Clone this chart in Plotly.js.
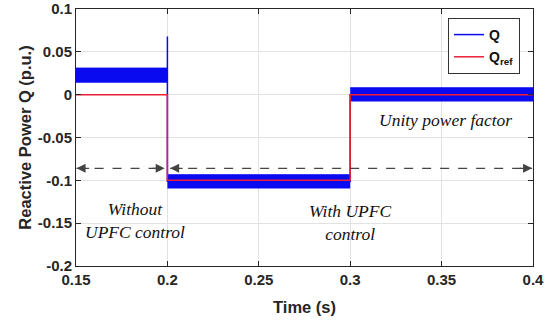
<!DOCTYPE html>
<html>
<head>
<meta charset="utf-8">
<script src="https://cdn.plot.ly/plotly-3.0.1.min.js"></script>
<style>html,body{margin:0;padding:0;background:#fff;}#chart{width:553px;height:321px;}</style>
</head>
<body>
<div id="chart"></div>
<script>
// Q: measured reactive power, envelope of the fast oscillation per interval
var bandStart = [0.15, 0.2, 0.3];
var bandEnd   = [0.2, 0.3, 0.4];
var bandHigh  = [0.031, -0.0935, 0.008];
var bandLow   = [0.014, -0.1095, -0.008];
// Q centre trace (incl. the transient spike at t = 0.2 s)
var qTime  = [0.15, 0.2, 0.2, 0.2, 0.3, 0.3, 0.4];
var qValue = [0.0225, 0.0225, 0.068, -0.101, -0.101, 0.0, 0.0];
// Q reference
var refTime  = [0.15, 0.2, 0.2, 0.3, 0.3, 0.4];
var refValue = [0, 0, -0.1, -0.1, 0, 0];
// axis ticks
var xTicks = [0.15, 0.2, 0.25, 0.3, 0.35, 0.4];
var xTickText = ["0.15", "0.2", "0.25", "0.3", "0.35", "0.4"];
var yTicks = [0.1, 0.05, 0, -0.05, -0.1, -0.15, -0.2];
var yTickText = ["0.1", "0.05", "0", "-0.05", "-0.1", "-0.15", "-0.2"];
// interval arrows
var arrowY = -0.086;
var arrowSpans = [[0.1503, 0.1985], [0.2015, 0.3995]];

var BLUE = '#0a0af0', RED = '#ee1c36', AX = '#262626';
var traces = [];
for (var i = 0; i < bandStart.length; i++) {
  traces.push({x: [bandStart[i], bandEnd[i]], y: [bandLow[i], bandLow[i]], mode: 'lines',
    line: {width: 0, color: BLUE}, showlegend: false, hoverinfo: 'skip', legendgroup: 'band'});
  traces.push({x: [bandStart[i], bandEnd[i]], y: [bandHigh[i], bandHigh[i]], mode: 'lines',
    line: {width: 1, color: BLUE}, fill: 'tonexty', fillcolor: BLUE, showlegend: false, hoverinfo: 'skip', legendgroup: 'band'});
}
traces.push({x: qTime, y: qValue, mode: 'lines', name: '<b>Q</b>', legendgroup: 'q', line: {color: BLUE, width: 1.5}});
traces.push({x: refTime, y: refValue, mode: 'lines', name: '<b>Q<sub>ref</sub></b>', legendgroup: 'r', line: {color: RED, width: 1.5}});

var shapes = [], annotations = [];
arrowSpans.forEach(function (s) {
  shapes.push({type: 'line', xref: 'x', yref: 'y', x0: s[0], x1: s[1], y0: arrowY, y1: arrowY,
    line: {color: '#444', width: 1.2, dash: 'dash'}});
  annotations.push({x: s[0], y: arrowY, xref: 'x', yref: 'y', text: '', showarrow: true,
    ax: 14, ay: 0, arrowhead: 2, arrowsize: 1.5, arrowwidth: 1.2, arrowcolor: '#444', standoff: 0});
  annotations.push({x: s[1], y: arrowY, xref: 'x', yref: 'y', text: '', showarrow: true,
    ax: -14, ay: 0, arrowhead: 2, arrowsize: 1.5, arrowwidth: 1.2, arrowcolor: '#444', standoff: 0});
});
var txtFont = {family: '"Liberation Serif", "Times New Roman", serif', size: 17.5, color: '#111'};
annotations.push({x: 0.1823, y: -0.147, xref: 'x', yref: 'y', text: '<i>Without<br>UPFC control</i>', showarrow: false, font: txtFont, align: 'center'});
annotations.push({x: 0.3, y: -0.149, xref: 'x', yref: 'y', text: '<i>With UPFC<br>control</i>', showarrow: false, font: txtFont, align: 'center'});
annotations.push({x: 0.352, y: -0.029, xref: 'x', yref: 'y', text: '<i>Unity power factor</i>', showarrow: false, font: txtFont});

var tickFont = {family: '"Liberation Sans", Arial, sans-serif', size: 15, color: AX, weight: 'bold'};
var titleFont = {family: '"Liberation Sans", Arial, sans-serif', size: 16.5, color: AX, weight: 'bold'};
var layout = {
  width: 553, height: 321,
  margin: {l: 76, r: 20, t: 9, b: 55},
  paper_bgcolor: '#fff', plot_bgcolor: '#fff',
  showlegend: true,
  legend: {x: 0.814, y: 0.965, xanchor: 'left', yanchor: 'top', bgcolor: '#fff',
    bordercolor: '#333', borderwidth: 1, font: {family: '"Liberation Sans", Arial, sans-serif', size: 14, color: '#111', weight: 'bold'},
    traceorder: 'grouped', tracegroupgap: 1},
  xaxis: {range: [0.15, 0.4], tickvals: xTicks, ticktext: xTickText, showgrid: true, gridcolor: '#e2e2e2',
    zeroline: false, showline: true, linecolor: AX, linewidth: 1, mirror: 'ticks', ticks: 'inside', ticklen: 5,
    tickcolor: AX, tickfont: tickFont, ticklabeloverflow: 'allow',
    title: {text: 'Time (s)', font: titleFont, standoff: 14}},
  yaxis: {range: [-0.2, 0.1], tickvals: yTicks, ticktext: yTickText, showgrid: true, gridcolor: '#e2e2e2',
    zeroline: false, showline: true, linecolor: AX, linewidth: 1, mirror: 'ticks', ticks: 'inside', ticklen: 5,
    tickcolor: AX, tickfont: tickFont, ticklabeloverflow: 'allow',
    title: {text: 'Reactive Power Q (p.u.)', font: titleFont, standoff: 2}},
  shapes: shapes,
  annotations: annotations
};
Plotly.newPlot('chart', traces, layout, {displayModeBar: false, staticPlot: true});
</script>
</body>
</html>
